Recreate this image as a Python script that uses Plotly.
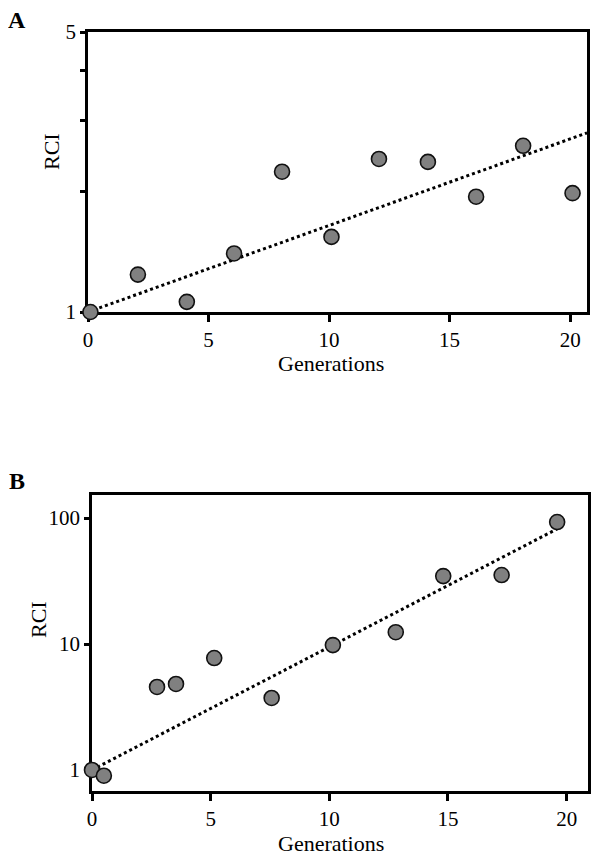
import math
import plotly.graph_objects as go

# ---- data ----
gen_a = [0.1, 2.07, 4.1, 6.06, 8.05, 10.1, 12.07, 14.1, 16.1, 18.05, 20.1]
rci_a = [1.0, 1.24, 1.06, 1.40, 2.24, 1.54, 2.41, 2.37, 1.94, 2.60, 1.98]
trend_a_x = [0, 20.7]
trend_a_y = [1.0, 2.8]

gen_b = [0, 0.5, 2.74, 3.54, 5.15, 7.57, 10.15, 12.8, 14.8, 17.26, 19.6]
rci_b = [1.0, 0.90, 4.56, 4.82, 7.74, 3.73, 9.8, 12.4, 34.6, 35.3, 93]
trend_b_x = [0, 19.6]
trend_b_y = [1.0, 82]

x_ticks = [0, 5, 10, 15, 20]
ya_ticks = [1, 2, 3, 4, 5]
ya_text = ["1", "", "", "", "5"]
yb_ticks = [1, 10, 100]
yb_text = ["1", "10", "100"]

# page body has an 8px default margin; figure sized to fit inside the 601x863 window
OFF = 8
W, H = 601 - 2 * OFF, 863 - 2 * OFF
FONT = "Liberation Serif, Times New Roman, serif"

fig = go.Figure()

marker = dict(size=15, color="#808080", line=dict(color="#111111", width=1.6))
dotline = dict(color="black", width=3, dash="dot")

fig.add_trace(go.Scatter(x=trend_a_x, y=trend_a_y, mode="lines", line=dotline,
                         xaxis="x", yaxis="y", cliponaxis=False, showlegend=False))
fig.add_trace(go.Scatter(x=gen_a, y=rci_a, mode="markers", marker=marker,
                         xaxis="x", yaxis="y", cliponaxis=False, showlegend=False))
fig.add_trace(go.Scatter(x=trend_b_x, y=trend_b_y, mode="lines", line=dotline,
                         xaxis="x2", yaxis="y2", cliponaxis=False, showlegend=False))
fig.add_trace(go.Scatter(x=gen_b, y=rci_b, mode="markers", marker=marker,
                         xaxis="x2", yaxis="y2", cliponaxis=False, showlegend=False))


def px_x(p):
    return (p - OFF) / W


def px_y(p):
    return 1 - (p - OFF) / H


axis_common = dict(showline=True, linecolor="black", linewidth=2.5, mirror=True,
                   showgrid=False, zeroline=False, ticks="outside", tickcolor="black",
                   tickwidth=2.5, layer="below traces", automargin=False,
                   tickfont=dict(family=FONT, size=21, color="black"))

fig.update_layout(
    width=W, height=H,
    margin=dict(l=0, r=0, t=0, b=0, autoexpand=False),
    paper_bgcolor="white", plot_bgcolor="white",
    font=dict(family=FONT, size=22, color="black"),
    xaxis=dict(domain=[px_x(88), px_x(587)], anchor="y", range=[0, 20.7],
               tickvals=x_ticks, ticklen=7, **axis_common),
    yaxis=dict(domain=[px_y(312), px_y(32)], anchor="x", type="log",
               range=[0, math.log10(5)], tickvals=ya_ticks, ticktext=ya_text,
               ticklen=5, **axis_common),
    xaxis2=dict(domain=[px_x(92), px_x(588)], anchor="y2", range=[0, 20.9],
                tickvals=x_ticks, ticklen=7, **axis_common),
    yaxis2=dict(domain=[px_y(791), px_y(495)], anchor="x2", type="log",
                range=[-0.167, 2.183], tickvals=yb_ticks, ticktext=yb_text,
                ticklen=5, **axis_common),
)


def ann(text, x, y, size=22, bold=False, angle=0):
    fig.add_annotation(text=f"<b>{text}</b>" if bold else text,
                       x=px_x(x), y=px_y(y), xref="paper", yref="paper",
                       showarrow=False, xanchor="center", yanchor="middle",
                       textangle=angle, font=dict(family=FONT, size=size, color="black"))


ann("A", 17, 20, size=24, bold=True)
ann("B", 17, 481, size=24, bold=True)
ann("RCI", 51, 152, angle=-90)
ann("RCI", 38, 620, angle=-90)
ann("Generations", 331, 363)
ann("Generations", 331, 843)

fig.write_html("out.html")
